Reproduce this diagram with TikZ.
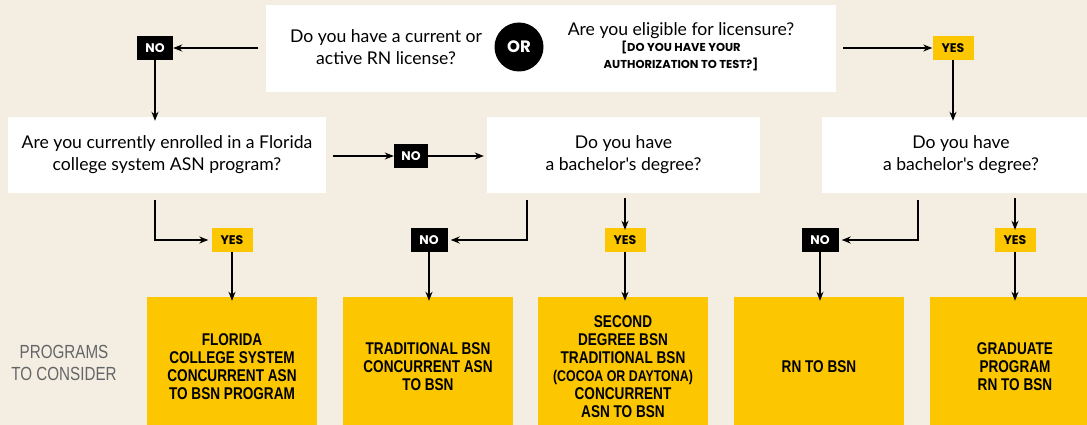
\documentclass[tikz,border=0pt]{standalone}
\usepackage{fontspec}
\usetikzlibrary{arrows.meta}
\newfontfamily\bodyf{Lato}
\newfontfamily\labf{Poppins}
\newfontfamily\condf[FakeStretch=0.80]{Liberation Sans}
\definecolor{bgc}{HTML}{F3EEE1}
\definecolor{ylw}{HTML}{FCC700}
\definecolor{grayt}{HTML}{646568}
\tikzset{
  q/.style={fill=white, draw=none, inner sep=0pt, align=center, font=\bodyf\fontsize{17.6}{22}\selectfont},
  nolab/.style={fill=black, text=white, inner sep=0pt, minimum width=#1, minimum height=24pt, font=\labf\bfseries\fontsize{12.5}{13}\selectfont},
  yeslab/.style={fill=ylw, text=black, inner sep=0pt, minimum width=#1, minimum height=24pt, font=\labf\bfseries\fontsize{12.5}{13}\selectfont},
  prog/.style={fill=ylw, inner sep=0pt, minimum width=170pt, minimum height=140pt, align=center, font=\condf\bfseries\fontsize{17}{18}\selectfont},
  arr/.style={-{Stealth[length=9pt,width=7pt]}, line width=1.3pt},
  ln/.style={line width=1.3pt}
}
\begin{document}
\begin{tikzpicture}[x=1pt,y=-1pt]
\fill[bgc] (0,0) rectangle (1087,425);
\useasboundingbox (0,0) rectangle (1087,425);
% top box
\node[q, minimum width=570pt, minimum height=87pt] (top) at (551,48.5) {};
\node[font=\bodyf\fontsize{17.6}{22}\selectfont, align=center] (q1) at (386,47) {Do you have a current or\\active RN license?};
\node[circle, fill=black, minimum size=49pt, inner sep=0pt, text=white, font=\labf\bfseries\fontsize{16.5}{17}\selectfont] (or) at (519,47) {OR};
\node[font=\bodyf\fontsize{17.6}{22}\selectfont, inner sep=0pt] (q2) at (681,31) {Are you eligible for licensure?};
\node[font=\labf\bfseries\fontsize{11.5}{17}\selectfont, align=center, inner sep=0pt] (q2b) at (681,56) {[DO YOU HAVE YOUR\\AUTHORIZATION TO TEST?]};
\node[nolab=36pt] (no1) at (155,48) {NO};
\node[yeslab=41pt] (yes1) at (953,48) {YES};
\coordinate (topL) at (258,48);
\coordinate (topR) at (843,48);
\draw[arr] (topL) -- (no1.east);
\draw[arr] (topR) -- (yes1.west);
% second row
\node[q, minimum width=318pt, minimum height=76pt] (b2) at (167,155) {Are you currently enrolled in a Florida\\college system ASN program?};
\node[q, minimum width=273pt, minimum height=76pt] (b3) at (623.5,155) {Do you have\\a bachelor's degree?};
\node[q, minimum width=278pt, minimum height=76pt] (b4) at (961,155) {Do you have\\a bachelor's degree?};
\draw[arr] (no1.south) -- ([yshift=-4pt]b2.north -| no1.south);
\draw[arr] (yes1.south) -- ([yshift=-4pt]b4.north -| yes1.south);
\node[nolab=34pt] (no2) at (411,156) {NO};
\coordinate (m1) at (333,156);
\draw[arr] (m1) -- (no2.west);
\draw[arr] (no2.east) -- ([xshift=-3pt]b3.west |- no2.east);
% third row labels
\node[yeslab=41pt] (yes2) at (232,240) {YES};
\node[nolab=37pt] (no3) at (429,240) {NO};
\node[yeslab=41pt] (yes3) at (625,240) {YES};
\node[nolab=37pt] (no4) at (820,240) {NO};
\node[yeslab=41pt] (yes4) at (1015,240) {YES};
\coordinate (s2) at (155,200);
\coordinate (s3) at (527,200);
\coordinate (s4) at (918,200);
\draw[arr] (s2) |- ([xshift=-3pt]yes2.west);
\draw[arr] (s3) |- ([xshift=3pt]no3.east);
\draw[arr] (s4) |- ([xshift=3pt]no4.east);
\coordinate (t3) at (625,198);
\coordinate (t4) at (1015,198);
\draw[arr] (t3) -- ([yshift=-2pt]yes3.north);
\draw[arr] (t4) -- ([yshift=-2pt]yes4.north);
% bottom programs
\node[prog] (p1) at (232,367) {FLORIDA\\COLLEGE SYSTEM\\CONCURRENT ASN\\TO BSN PROGRAM};
\node[prog] (p2) at (428,367) {TRADITIONAL BSN\\CONCURRENT ASN\\TO BSN};
\node[prog] (p3) at (623,367) {SECOND\\DEGREE BSN\\TRADITIONAL BSN\\\fontsize{15.5}{18}\selectfont(COCOA OR DAYTONA)\\CONCURRENT\\ASN TO BSN};
\node[prog] (p4) at (819,367) {RN TO BSN};
\node[prog] (p5) at (1015,367) {GRADUATE\\PROGRAM\\RN TO BSN};
\draw[arr] (yes2.south) -- ([yshift=-4pt]p1.north -| yes2.south);
\draw[arr] (no3.south) -- ([yshift=-4pt]p2.north -| no3.south);
\draw[arr] (yes3.south) -- ([yshift=-4pt]p3.north -| yes3.south);
\draw[arr] (no4.south) -- ([yshift=-4pt]p4.north -| no4.south);
\draw[arr] (yes4.south) -- ([yshift=-4pt]p5.north -| yes4.south);
\node[align=center, text=grayt, font=\condf\fontsize{19}{22}\selectfont] (ptc) at (64,363) {PROGRAMS\\TO CONSIDER};
\end{tikzpicture}
\end{document}
